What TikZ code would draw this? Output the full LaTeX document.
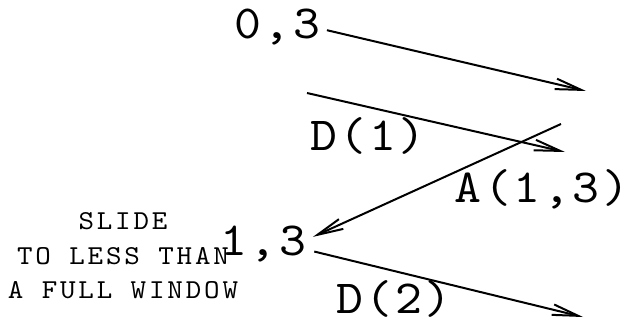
\documentclass[tikz,border=0pt]{standalone}
\usepackage{fontspec}
\newfontfamily\labelfont{lmmono10-regular}[Extension=.otf, FakeStretch=1.08, LetterSpace=5.5]
\newfontfamily\notefont{lmmono10-regular}[Extension=.otf, FakeStretch=1.08, LetterSpace=10.5]
\usetikzlibrary{arrows.meta,positioning}
\tikzset{
  state/.style ={inner sep=2pt, anchor=base, font=\labelfont\fontsize{35.6}{40}\selectfont},
  evt/.style   ={state},
  note/.style  ={align=center, inner sep=0pt, font=\notefont\fontsize{20.5}{25.9}\selectfont},
  flow/.style  ={-{Straight Barb[length=19.5pt,width=8pt]}, line width=1.5pt},
}
\begin{document}
\begin{tikzpicture}[x=0.75pt,y=-0.75pt]
    \useasboundingbox (0,0) rectangle (627,324);

    \node[state] (s03) at (277,39) {0,3};
    \node[state] (s13) at (263,255) {1,3};
    \node[evt] (d1) at (368,151) {D(1)};
    \node[evt] (a13) at (542,202) {A(1,3)};
    \node[evt] (d2) at (394,313) {D(2)};
    \node[note] (win) at (123,256) {SLIDE\\TO LESS THAN\\A FULL WINDOW};

    \coordinate (e1) at (586,91);
    \coordinate (b2) at (307,93);
    \coordinate (e2) at (565,152);
    \coordinate (b3) at (561,124);
    \coordinate (e4) at (583,317);

    \draw[flow] ([xshift=3pt,yshift=-2pt]s03.east) -- (e1);
    \draw[flow] (b2) -- (e2);
    \draw[flow] (b3) -- ([xshift=3pt,yshift=5pt]s13.east);
    \draw[flow] ([xshift=4pt,yshift=-6pt]s13.east) -- (e4);
\end{tikzpicture}
\end{document}
